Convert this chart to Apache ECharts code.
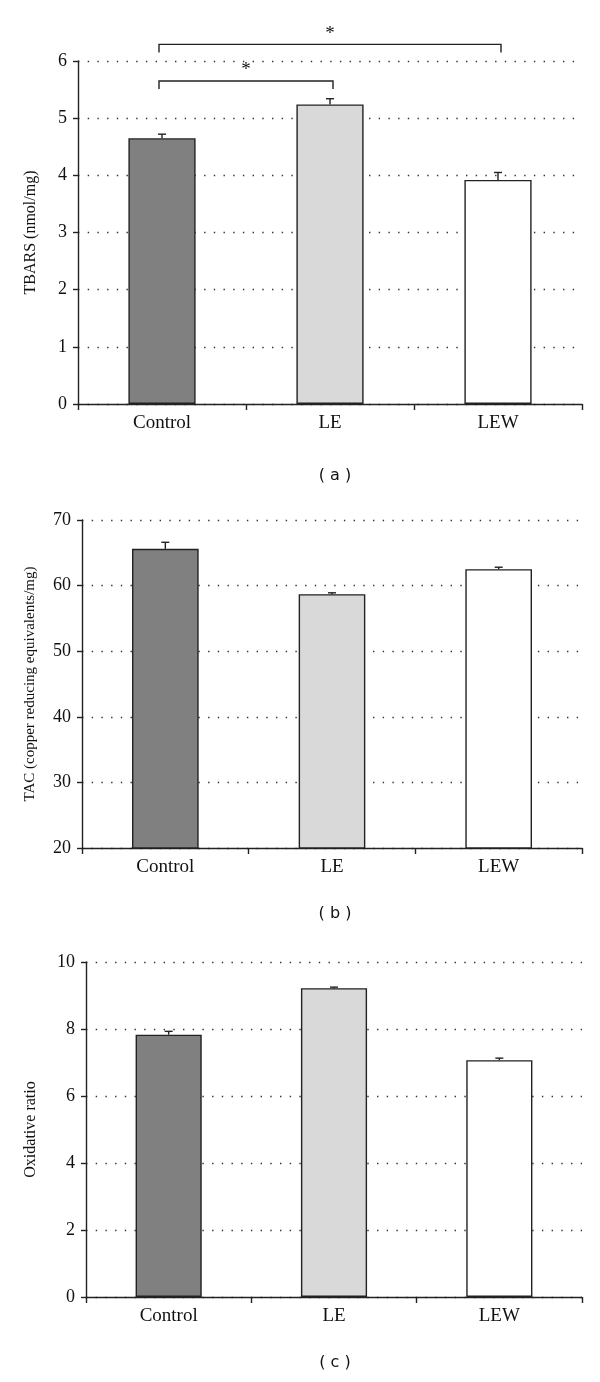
<!DOCTYPE html>
<html><head><meta charset="utf-8">
<script src="https://cdn.jsdelivr.net/npm/echarts@6/dist/echarts.min.js"></script>
<style>html,body{margin:0;padding:0;background:#fff}#c{width:600px;height:1382px}</style>
</head><body><div id="c"></div>
<script>
const categories = ['Control', 'LE', 'LEW'];
const tbars = [4.65, 5.24, 3.92];
const tbarsErr = [0.07, 0.10, 0.13];
const tac = [65.6, 58.7, 62.5];
const tacErr = [1.0, 0.2, 0.3];
const ratio = [7.83, 9.22, 7.07];
const ratioErr = [0.10, 0.03, 0.06];
const barColors = ['#808080', '#d9d9d9', '#ffffff'];
// significance brackets for panel (a): [fromIndex, toIndex, yLevel]
const brackets = [[0, 2, 6.29], [0, 1, 5.65]];
const captions = ['( a )', '( b )', '( c )'];

const SERIF = '"Liberation Serif", "DejaVu Serif", serif';
const grids = [
  {left: 78, top: 61, width: 504, height: 343},
  {left: 82, top: 520, width: 500, height: 328},
  {left: 86, top: 962, width: 496, height: 335}
];
const yAxes = [
  {min: 0, max: 6, interval: 1, name: 'TBARS (nmol/mg)', gap: 39, fs: 16},
  {min: 20, max: 70, interval: 10, name: 'TAC (copper reducing equivalents/mg)', gap: 44, fs: 15},
  {min: 0, max: 10, interval: 2, name: 'Oxidative ratio', gap: 47, fs: 16}
];
const values = [tbars, tac, ratio];
const errs = [tbarsErr, tacErr, ratioErr];

const axisLine = {show: true, lineStyle: {color: '#222', width: 1.4}};
const option = {
  animation: false,
  backgroundColor: '#fff',
  grid: grids,
  title: captions.map((t, i) => ({
    text: t, left: 330, top: [463, 901, 1350][i], textAlign: 'center',
    textStyle: {fontFamily: '"DejaVu Sans", sans-serif', fontWeight: 'normal', fontSize: 16, color: '#111'}
  })),
  xAxis: grids.map((g, i) => ({
    type: 'category', gridIndex: i, data: categories,
    axisLine: axisLine,
    axisTick: {show: true, length: 6, lineStyle: {color: '#222', width: 1.4}},
    axisLabel: {fontFamily: SERIF, fontSize: 19, color: '#111', margin: 10},
    splitLine: {show: false}
  })),
  yAxis: yAxes.map((y, i) => ({
    type: 'value', gridIndex: i, min: y.min, max: y.max, interval: y.interval,
    name: y.name, nameLocation: 'middle', nameGap: y.gap,
    nameTextStyle: {fontFamily: SERIF, fontSize: y.fs, color: '#111'},
    axisLine: axisLine,
    axisTick: {show: true, length: 5, lineStyle: {color: '#222', width: 1.4}},
    axisLabel: {fontFamily: SERIF, fontSize: 18, color: '#111', margin: 11},
    splitLine: {show: true, lineStyle: {color: '#333', width: 1.4, type: [1.4, 8.3]}}
  })),
  series: []
};

values.forEach((vals, i) => {
  option.series.push({
    type: 'bar', xAxisIndex: i, yAxisIndex: i, barWidth: '40%', z: 3,
    data: vals.map((v, k) => ({value: v, itemStyle: {color: barColors[k], borderColor: '#222', borderWidth: 1.4}}))
  });
  option.series.push({
    type: 'custom', xAxisIndex: i, yAxisIndex: i, z: 4,
    data: vals.map((v, k) => [k, v, v + errs[i][k]]),
    renderItem: function (params, api) {
      const x = api.coord([api.value(0), api.value(1)]);
      const top = api.coord([api.value(0), api.value(2)]);
      return {type: 'group', children: [
        {type: 'line', shape: {x1: x[0], y1: x[1], x2: x[0], y2: top[1]}, style: {stroke: '#222', lineWidth: 1.4}},
        {type: 'line', shape: {x1: x[0] - 4, y1: top[1], x2: x[0] + 4, y2: top[1]}, style: {stroke: '#222', lineWidth: 1.4}}
      ]};
    }
  });
});

option.series.push({
  type: 'custom', xAxisIndex: 0, yAxisIndex: 0, z: 5, clip: false,
  data: brackets,
  renderItem: function (params, api) {
    const a = api.coord([api.value(0), api.value(2)]);
    const b = api.coord([api.value(1), api.value(2)]);
    const x1 = a[0] - 3, x2 = b[0] + 3, y = a[1];
    return {type: 'group', children: [
      {type: 'polyline', shape: {points: [[x1, y + 8], [x1, y], [x2, y], [x2, y + 8]]}, style: {stroke: '#222', lineWidth: 1.4, fill: null}},
      {type: 'text', style: {text: '*', x: (x1 + x2) / 2, y: y - 1, textAlign: 'center', textVerticalAlign: 'bottom', font: '19px ' + SERIF, fill: '#111'}}
    ]};
  }
});

const chart = echarts.init(document.getElementById('c'), null, {renderer: 'canvas'});
chart.setOption(option);
</script></body></html>
